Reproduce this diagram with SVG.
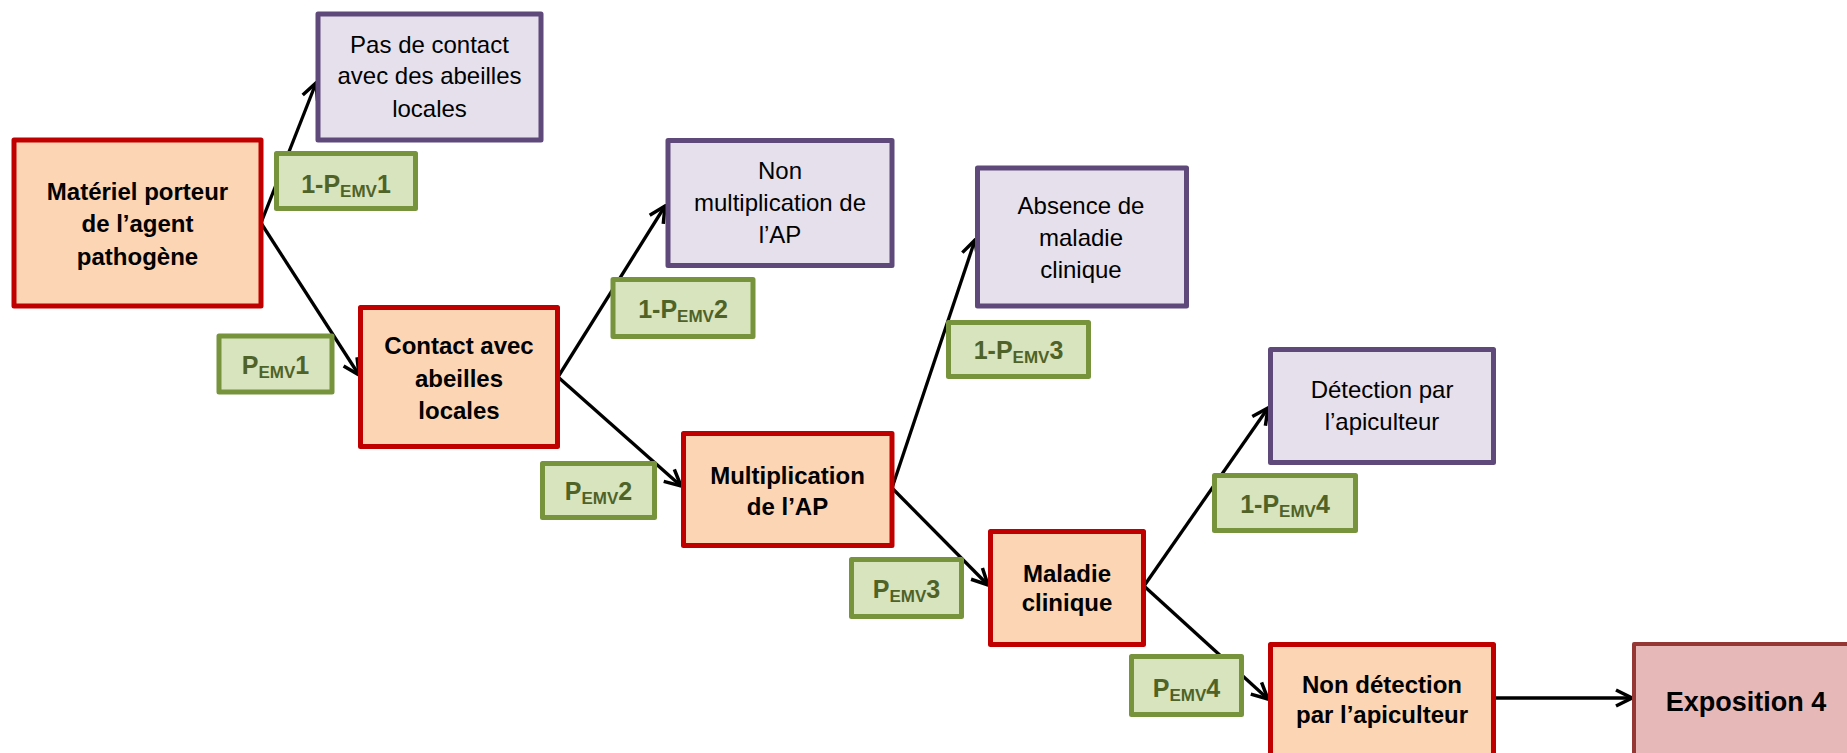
<svg xmlns="http://www.w3.org/2000/svg" width="1847" height="753" viewBox="0 0 1847 753">
<defs>
<marker id="arr" viewBox="0 0 20 20" refX="18" refY="10" markerWidth="20" markerHeight="20" markerUnits="userSpaceOnUse" orient="auto">
<path d="M2,2 L18,10 L2,18" fill="none" stroke="#000" stroke-width="3.5" stroke-linejoin="miter"/>
</marker>
<style>
.step rect{fill:#FCD5B5;stroke:#C00000;stroke-width:5;stroke-linejoin:round}
.out rect{fill:#E5E0EC;stroke:#5F497A;stroke-width:5;stroke-linejoin:round}
.prob rect{fill:#D7E4BD;stroke:#77933C;stroke-width:5;stroke-linejoin:round}
.expo rect{fill:#E6B9B8;stroke:#953735;stroke-width:4;stroke-linejoin:round}
text{font-family:"Liberation Sans",Arial,sans-serif;text-anchor:middle}
.step text,.expo text{font-weight:bold;font-size:24px;fill:#000}
.out text{font-size:24px;fill:#000}
.prob text{font-weight:bold;font-size:25px;fill:#4F6228}
.prob tspan.s{font-size:17px}
.expo text{font-size:27px}
#connectors line{stroke:#000;stroke-width:3.3;marker-end:url(#arr)}
</style>
</defs>
<rect width="1847" height="753" fill="#fff"/>
<g id="connectors">
<line x1="261" y1="223" x2="316" y2="83"/>
<line x1="261" y1="223" x2="359" y2="375"/>
<line x1="558" y1="377" x2="665" y2="206"/>
<line x1="558" y1="377" x2="681" y2="486"/>
<line x1="892" y1="488" x2="975" y2="240"/>
<line x1="892" y1="488" x2="988" y2="585"/>
<line x1="1144" y1="586" x2="1268" y2="408"/>
<line x1="1144" y1="586" x2="1268" y2="699"/>
<line x1="1496" y1="698" x2="1632" y2="698"/>
</g>
<g id="n-materiel" class="step">
<rect x="14" y="140" width="247" height="166"/>
<text x="137.5" y="200">Matériel porteur</text>
<text x="137.5" y="232">de l’agent</text>
<text x="137.5" y="265">pathogène</text>
</g>
<g id="n-pascontact" class="out">
<rect x="318" y="14" width="223" height="126"/>
<text x="429.5" y="53">Pas de contact</text>
<text x="429.5" y="84">avec des abeilles</text>
<text x="429.5" y="117">locales</text>
</g>
<g id="p-1-1" class="prob">
<rect x="276.5" y="153.5" width="139" height="55"/>
<text x="346" y="193">1-P<tspan class="s" dy="4">EMV</tspan><tspan dy="-4">1</tspan></text>
</g>
<g id="p-1" class="prob">
<rect x="219" y="336" width="113" height="56"/>
<text x="275.5" y="374">P<tspan class="s" dy="4">EMV</tspan><tspan dy="-4">1</tspan></text>
</g>
<g id="n-contact" class="step">
<rect x="360.5" y="307.5" width="197" height="139"/>
<text x="459" y="354">Contact avec</text>
<text x="459" y="387">abeilles</text>
<text x="459" y="419">locales</text>
</g>
<g id="n-nonmulti" class="out">
<rect x="668" y="140.5" width="224" height="125"/>
<text x="780" y="179">Non</text>
<text x="780" y="211">multiplication de</text>
<text x="780" y="243">l’AP</text>
</g>
<g id="p-1-2" class="prob">
<rect x="613" y="279.5" width="140" height="57"/>
<text x="683" y="318">1-P<tspan class="s" dy="4">EMV</tspan><tspan dy="-4">2</tspan></text>
</g>
<g id="p-2" class="prob">
<rect x="542.5" y="463.5" width="112" height="54"/>
<text x="598.5" y="500">P<tspan class="s" dy="4">EMV</tspan><tspan dy="-4">2</tspan></text>
</g>
<g id="n-multi" class="step">
<rect x="683.5" y="433.5" width="208.5" height="112"/>
<text x="787.5" y="484">Multiplication</text>
<text x="787.5" y="515">de l’AP</text>
</g>
<g id="n-absence" class="out">
<rect x="977.5" y="168" width="209" height="138"/>
<text x="1081" y="214">Absence de</text>
<text x="1081" y="246">maladie</text>
<text x="1081" y="278">clinique</text>
</g>
<g id="p-1-3" class="prob">
<rect x="948.5" y="322.5" width="140" height="54"/>
<text x="1018.5" y="359">1-P<tspan class="s" dy="4">EMV</tspan><tspan dy="-4">3</tspan></text>
</g>
<g id="p-3" class="prob">
<rect x="851.5" y="559.5" width="110" height="57"/>
<text x="906.5" y="598">P<tspan class="s" dy="4">EMV</tspan><tspan dy="-4">3</tspan></text>
</g>
<g id="n-maladie" class="step">
<rect x="990.5" y="531.5" width="153" height="113"/>
<text x="1067" y="582">Maladie</text>
<text x="1067" y="611">clinique</text>
</g>
<g id="n-detection" class="out">
<rect x="1270.5" y="349.5" width="223" height="113"/>
<text x="1382" y="398">Détection par</text>
<text x="1382" y="430">l’apiculteur</text>
</g>
<g id="p-1-4" class="prob">
<rect x="1214.5" y="475.5" width="141" height="55"/>
<text x="1285" y="513">1-P<tspan class="s" dy="4">EMV</tspan><tspan dy="-4">4</tspan></text>
</g>
<g id="p-4" class="prob">
<rect x="1131.5" y="656.5" width="110" height="58"/>
<text x="1186.5" y="697">P<tspan class="s" dy="4">EMV</tspan><tspan dy="-4">4</tspan></text>
</g>
<g id="n-nondetection" class="step">
<rect x="1270.5" y="644.5" width="223" height="120"/>
<text x="1382" y="693">Non détection</text>
<text x="1382" y="723">par l’apiculteur</text>
</g>
<g id="n-exposition" class="expo">
<rect x="1634" y="644" width="226" height="120"/>
<text x="1746" y="711">Exposition 4</text>
</g>
</svg>
